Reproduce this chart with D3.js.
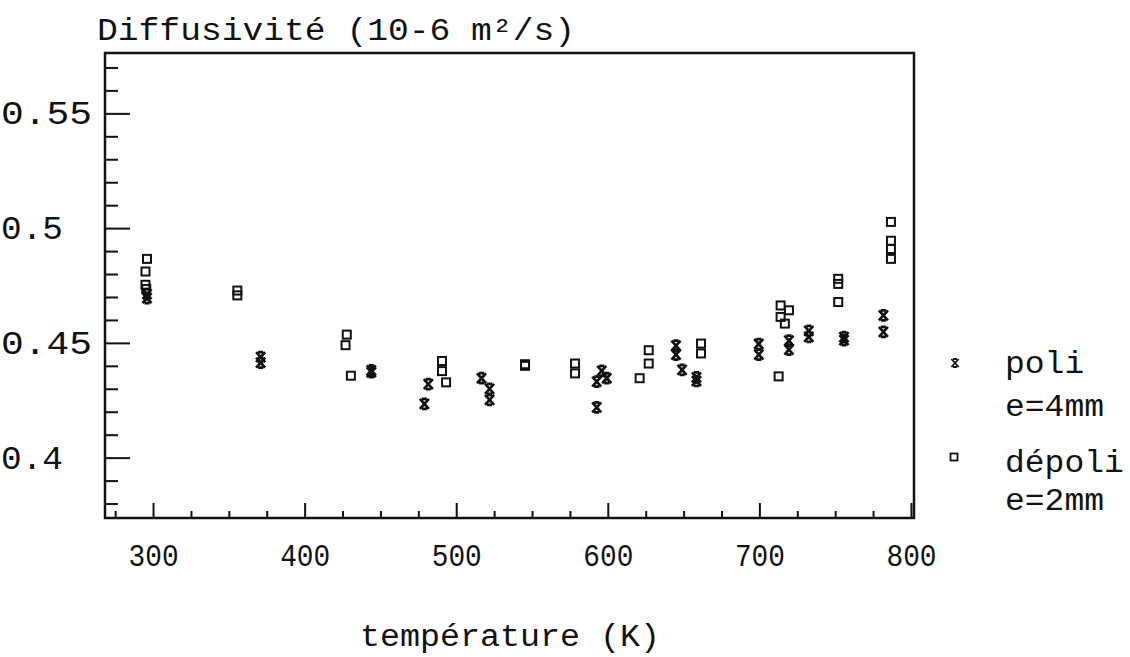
<!DOCTYPE html>
<html><head><meta charset="utf-8">
<script src="https://cdn.jsdelivr.net/npm/d3@7"></script>
<style>
html,body{margin:0;padding:0;background:#fff;}
text{font-family:"Liberation Mono","DejaVu Sans Mono",monospace;fill:#111;}
</style></head>
<body>
<svg id="c" width="1130" height="657"></svg>
<script>
// ---- data ----
const xMajorTicks = [300, 400, 500, 600, 700, 800];
const yMajorTicks = [0.4, 0.45, 0.5, 0.55];
const yTickLabels = ["0.4", "0.45", "0.5", "0.55"];
const xTickLabels = ["300", "400", "500", "600", "700", "800"];
const titleText = "Diffusivité (10-6 m²/s)";
const xTitle = "température (K)";
const legendLabels = [["poli", "e=4mm"], ["dépoli", "e=2mm"]];

// poli e=4mm (stars)
const poliT = [296, 296, 371, 371, 444, 444, 481.6, 479, 516.7, 522, 522, 596, 592.7, 599.3, 592.7,
  645, 645, 649, 658.5, 658.5, 699.6, 699.6, 719.5, 719.5, 732.6, 732.6, 755.8, 755.8, 781.8, 781.8];
const poliD = [0.4712, 0.4695, 0.4438, 0.4414, 0.4380, 0.4372, 0.4320, 0.4234, 0.4346, 0.4300, 0.4252, 0.4378, 0.4331, 0.4346, 0.4219,
  0.4488, 0.4449, 0.4382, 0.4350, 0.4334, 0.4495, 0.4449, 0.4510, 0.4471, 0.4552, 0.4526, 0.4525, 0.4512, 0.4620, 0.4548];

// dépoli e=2mm (squares)
const depoliT = [296, 295, 295, 295.5, 355.6, 355.6, 427.8, 427, 430.5, 490.6, 490.6, 493.3, 545.4, 545.4, 578.4, 578.4,
  621, 627, 627, 661.5, 661.5, 712.7, 714, 719.5, 714, 716.8, 752, 752, 752, 786.8, 786.8, 786.8, 786.8];
const depoliD = [0.4866, 0.4811, 0.4753, 0.4735, 0.4728, 0.4707, 0.4536, 0.4490, 0.4357, 0.4421, 0.4377, 0.4328, 0.4400, 0.4407, 0.4410, 0.4367,
  0.4346, 0.4468, 0.4410, 0.4497, 0.4454, 0.4354, 0.4663, 0.4642, 0.4613, 0.4584, 0.4779, 0.4757, 0.4678, 0.5027, 0.4945, 0.4909, 0.4866];

// ---- layout ----
const L = 105, R = 914, T = 53, B = 518;
const svg = d3.select("#c");
const x = d3.scaleLinear().domain([268.3, 802]).range([L, R]);
const y = d3.scaleLinear().domain([0.3737, 0.5763]).range([B, T]);

const xMinor = d3.range(275, 801, 25).filter(v => v % 100 !== 0);
const yMinor = d3.range(38, 58).map(v => v / 100).filter(v => Math.round(v * 100) % 5 !== 0);

function styleAxis(g) {
  g.select(".domain").remove();
  g.selectAll("line").attr("stroke", "#111").attr("stroke-width", 2);
}
// ticks inside the frame
svg.append("g").attr("transform", `translate(0,${B})`)
  .call(d3.axisBottom(x).tickValues(xMinor).tickSize(-7).tickFormat("")).call(styleAxis);
svg.append("g").attr("transform", `translate(0,${B})`)
  .call(d3.axisBottom(x).tickValues(xMajorTicks).tickSize(-15).tickFormat("")).call(styleAxis);
svg.append("g").attr("transform", `translate(${L},0)`)
  .call(d3.axisLeft(y).tickValues(yMinor).tickSize(-13).tickFormat("")).call(styleAxis);
svg.append("g").attr("transform", `translate(${L},0)`)
  .call(d3.axisLeft(y).tickValues(yMajorTicks).tickSize(-25).tickFormat("")).call(styleAxis);

// tick labels
const xl = svg.append("g").attr("transform", `translate(0,${B})`)
  .call(d3.axisBottom(x).tickValues(xMajorTicks).tickSize(0).tickPadding(26)
    .tickFormat((d, i) => xTickLabels[i]));
xl.select(".domain").remove();
xl.selectAll("text").attr("font-size", 31).attr("font-family", "Liberation Mono").attr("fill", "#111")
  .attr("textLength", 50).attr("lengthAdjust", "spacingAndGlyphs");

const yl = svg.append("g").attr("transform", `translate(${L},0)`)
  .call(d3.axisLeft(y).tickValues(yMajorTicks).tickSize(0)
    .tickFormat((d, i) => yTickLabels[i]));
yl.select(".domain").remove();
yl.selectAll("text").attr("font-size", 33).attr("font-family", "Liberation Mono").attr("fill", "#111")
  .attr("text-anchor", "start").attr("x", 1 - L)
  .attr("textLength", function () { return this.textContent.length === 4 ? 91 : 62; })
  .attr("lengthAdjust", "spacingAndGlyphs");

// frame
svg.append("rect").attr("x", L).attr("y", T).attr("width", R - L).attr("height", B - T)
  .attr("fill", "none").attr("stroke", "#111").attr("stroke-width", 2.5);

// titles
svg.append("text").attr("x", 97).attr("y", 40).attr("font-size", 31)
  .attr("textLength", 478).attr("lengthAdjust", "spacingAndGlyphs").text(titleText);
svg.append("text").attr("x", 360).attr("y", 646).attr("font-size", 31)
  .attr("textLength", 300).attr("lengthAdjust", "spacingAndGlyphs").text(xTitle);

// markers
function starPath(cx, cy) {
  const w = 4.5, h = 5, b = 2.5;
  return `M${cx - w},${cy - h}L${cx + w},${cy + h}M${cx + w},${cy - h}L${cx - w},${cy + h}` +
    `M${cx - b},${cy - h}H${cx + b}M${cx - b},${cy + h}H${cx + b}`;
}
const poli = poliT.map((t, i) => ({t, d: poliD[i]}));
const depoli = depoliT.map((t, i) => ({t, d: depoliD[i]}));

svg.append("g").selectAll("path").data(poli).join("path")
  .attr("d", p => starPath(x(p.t), y(p.d)))
  .attr("stroke", "#111").attr("stroke-width", 2.7).attr("fill", "none");
svg.append("g").selectAll("rect").data(depoli).join("rect")
  .attr("x", p => x(p.t) - 4).attr("y", p => y(p.d) - 4).attr("width", 8).attr("height", 8)
  .attr("fill", "none").attr("stroke", "#111").attr("stroke-width", 2);

// legend
const lg = svg.append("g");
lg.append("path").attr("d", starPath(955, 363)).attr("stroke", "#111").attr("stroke-width", 2.2).attr("fill", "none")
  .attr("transform", "translate(955,363) scale(0.8) translate(-955,-363)");
lg.append("rect").attr("x", 950.5).attr("y", 453.5).attr("width", 7).attr("height", 7)
  .attr("fill", "none").attr("stroke", "#111").attr("stroke-width", 1.8);
const legY = [[373, 416], [472, 510]];
legendLabels.forEach((pair, i) => {
  pair.forEach((s, j) => {
    lg.append("text").attr("x", 1005).attr("y", legY[i][j]).attr("font-size", 31)
      .attr("textLength", s.length * 19.8).attr("lengthAdjust", "spacingAndGlyphs").text(s);
  });
});
</script>
</body></html>
